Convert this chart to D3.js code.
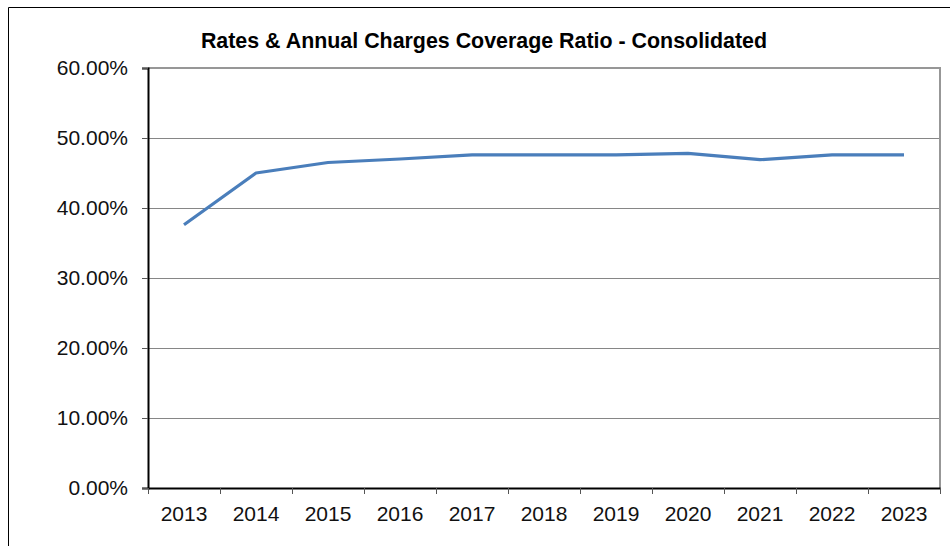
<!DOCTYPE html>
<html>
<head>
<meta charset="utf-8">
<script src="https://cdn.jsdelivr.net/npm/d3@7"></script>
<style>
  html, body { margin: 0; padding: 0; background: #fff; }
  svg { display: block; font-family: Arial, "Liberation Sans", sans-serif; }
</style>
</head>
<body>
<svg id="chart" width="950" height="546"></svg>
<script>
// Rates & annual charges coverage ratio by year (percent)
const years = ["2013", "2014", "2015", "2016", "2017", "2018", "2019", "2020", "2021", "2022", "2023"];
const ratio = [37.6, 45.0, 46.5, 47.0, 47.6, 47.6, 47.6, 47.8, 46.9, 47.6, 47.6];
const yTicks = [0, 10, 20, 30, 40, 50, 60];
const title = "Rates & Annual Charges Coverage Ratio - Consolidated";

const svg = d3.select("#chart");
const plot = { left: 148, right: 940, top: 68, bottom: 488 };
const labelFont = "Arial, 'Liberation Sans', sans-serif";

// Outer chart frame
svg.append("path")
  .attr("d", "M8.5,546 V7.5 H950")
  .attr("fill", "none").attr("stroke", "#000").attr("stroke-width", 1);

const x = d3.scaleBand().domain(years).range([plot.left, plot.right]).padding(0);
const y = d3.scaleLinear().domain([0, 60]).range([plot.bottom, plot.top]);

// Horizontal gridlines
svg.append("g").selectAll("line")
  .data(yTicks.filter(t => t > 0 && t < 60))
  .join("line")
  .attr("x1", plot.left).attr("x2", plot.right)
  .attr("y1", d => Math.round(y(d)) + 0.5).attr("y2", d => Math.round(y(d)) + 0.5)
  .attr("stroke", "#868686").attr("stroke-width", 1);

// Top and right plot border
svg.append("path")
  .attr("d", `M${plot.left},${plot.top} H${plot.right} V${plot.bottom}`)
  .attr("fill", "none").attr("stroke", "#979797").attr("stroke-width", 2);

// Y axis
const yAxis = svg.append("g")
  .attr("transform", `translate(${plot.left},0)`)
  .call(d3.axisLeft(y).tickValues(yTicks).tickSize(6).tickPadding(14)
    .tickFormat(d => d.toFixed(2) + "%"));
yAxis.select(".domain").attr("stroke", "#000").attr("stroke-width", 2);
yAxis.selectAll(".tick line").attr("stroke", "#555");
yAxis.selectAll("text").attr("font-size", 21).attr("fill", "#111")
  .attr("font-family", labelFont);

// X axis with ticks at category boundaries
const xAxis = svg.append("g")
  .attr("transform", `translate(0,${plot.bottom})`)
  .call(d3.axisBottom(x).tickSize(0).tickPadding(18));
xAxis.select(".domain").attr("stroke", "#000").attr("stroke-width", 2);
xAxis.selectAll("text").attr("font-size", 21).attr("fill", "#111")
  .attr("font-family", labelFont);
const bounds = years.map(d => x(d)).concat([x(years[years.length - 1]) + x.bandwidth()]);
svg.append("g").selectAll("line")
  .data(bounds).join("line")
  .attr("x1", d => Math.round(d) + 0.5).attr("x2", d => Math.round(d) + 0.5)
  .attr("y1", plot.bottom).attr("y2", plot.bottom + 6)
  .attr("stroke", "#555").attr("stroke-width", 1);

// Data line
const line = d3.line()
  .x((d, i) => x(years[i]) + x.bandwidth() / 2)
  .y(d => y(d));
svg.append("path")
  .datum(ratio)
  .attr("d", line)
  .attr("fill", "none")
  .attr("stroke", "#4a7ebb")
  .attr("stroke-width", 3.2)
  .attr("stroke-linejoin", "round");

// Title
svg.append("text")
  .attr("x", 484).attr("y", 48)
  .attr("text-anchor", "middle")
  .attr("font-family", labelFont)
  .attr("font-size", 21.4).attr("font-weight", "bold").attr("fill", "#000")
  .text(title);
</script>
</body>
</html>
